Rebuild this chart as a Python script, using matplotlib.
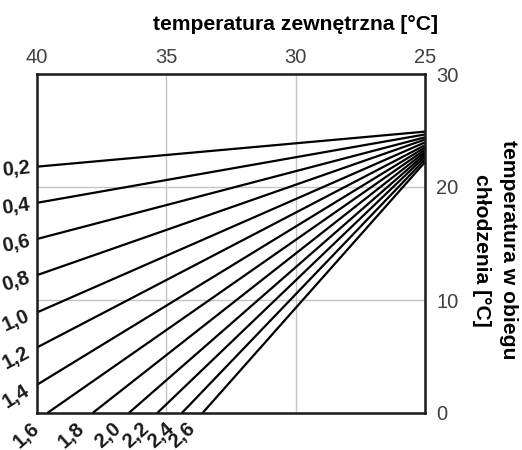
import matplotlib
matplotlib.use("Agg")
import matplotlib.pyplot as plt
from matplotlib.transforms import offset_copy

plt.rcParams['font.family'] = ['Liberation Sans', 'DejaVu Sans']

# ---- data ----
curve_labels = ['0,2', '0,4', '0,6', '0,8', '1,0', '1,2', '1,4',
                '1,6', '1,8', '2,0', '2,2', '2,4', '2,6']
x_start = [40, 40, 40, 40, 40, 40, 40, 39.6, 37.85, 36.45, 35.35, 34.4, 33.6]
y_start = [21.8, 18.6, 15.4, 12.2, 8.9, 5.8, 2.5, 0, 0, 0, 0, 0, 0]
x_end = [25] * 13
y_end = [24.9, 24.65, 24.4, 24.2, 23.95, 23.7, 23.5, 23.3, 23.1, 22.9, 22.7, 22.45, 22.2]
x_ticks = [40, 35, 30, 25]
y_ticks = [0, 10, 20, 30]
title_top = 'temperatura zewnętrzna [°C]'
title_right = 'temperatura w obiegu\nchłodzenia [°C]'

fig = plt.figure(figsize=(5.22, 4.5), dpi=100)
ax = fig.add_axes([37/522, 1-413/450, (425-37)/522, (413-74)/450])

ax.set_xlim(40, 25)
ax.set_ylim(0, 30)
ax.set_xticks(x_ticks)
ax.set_yticks(y_ticks)
ax.xaxis.tick_top()
ax.yaxis.tick_right()
ax.tick_params(axis='x', length=0, pad=5, labelsize=14.5, labelcolor='#404040')
ax.tick_params(axis='y', length=0, pad=8, labelsize=14.5, labelcolor='#404040')
ax.grid(True, color='#c4c4c4', lw=1)
ax.set_axisbelow(True)
for s in ax.spines.values():
    s.set_linewidth(1.8)
    s.set_color('#1a1a1a')

for xs, ys, xe, ye in zip(x_start, y_start, x_end, y_end):
    ax.plot([xs, xe], [ys, ye], color='black', lw=1.6, solid_capstyle='butt', clip_on=False)

left_rot = [6, 8, 12, 18, 24, 28, 32]
for i, lab in enumerate(curve_labels):
    if y_start[i] > 0:
        tr = offset_copy(ax.transData, fig=fig, x=-21, y=-(2 + 1.6*i), units='dots')
        ax.text(x_start[i], y_start[i], lab, transform=tr, ha='center', va='center',
                rotation=left_rot[i], fontsize=14.5, fontweight='bold', color='#1a1a1a',
                clip_on=False)
    else:
        tr = offset_copy(ax.transData, fig=fig, x=-21, y=-22, units='dots')
        ax.text(x_start[i], y_start[i], lab, transform=tr, ha='center', va='center',
                rotation=42, fontsize=14.5, fontweight='bold', color='#1a1a1a',
                clip_on=False)

fig.text(296/522, 1-25/450, title_top, ha='center', va='center',
         fontsize=15.2, fontweight='bold', color='black')
fig.text(495/522, 1-250/450, title_right, ha='center', va='center', rotation=-90,
         multialignment='center', linespacing=1.5,
         fontsize=15.2, fontweight='bold', color='black')

fig.savefig('out.png', dpi=100)
